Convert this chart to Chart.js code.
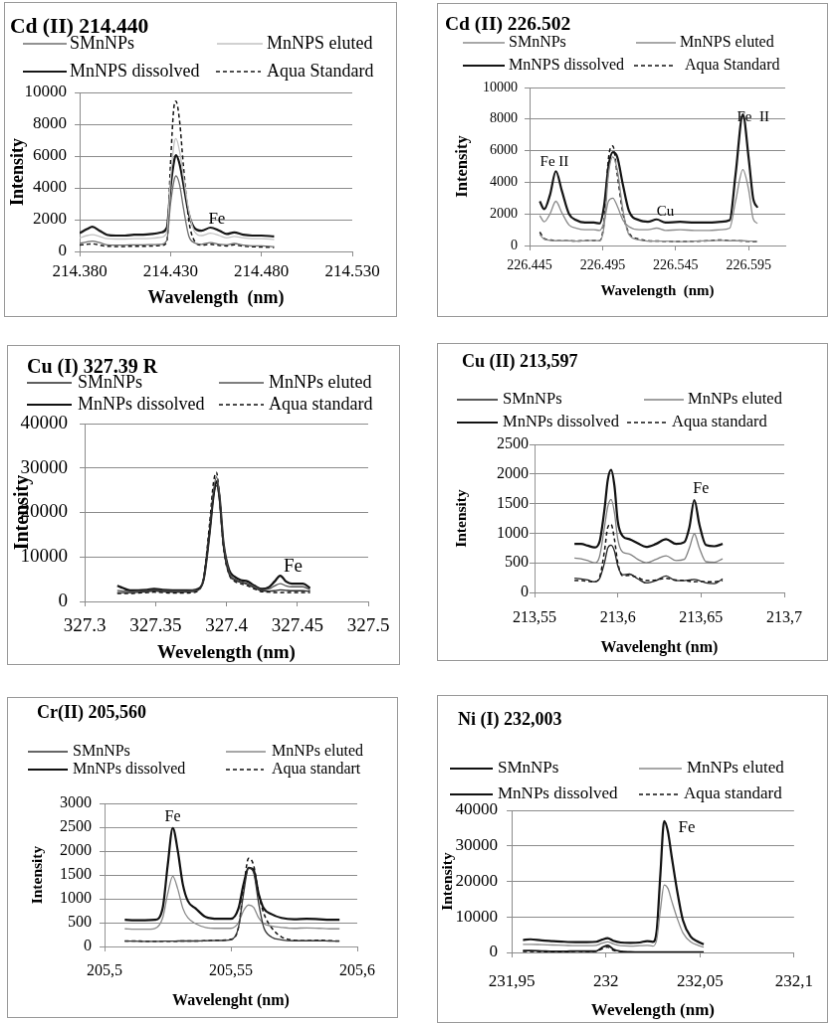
<!DOCTYPE html>
<html>
<head>
<meta charset="utf-8">
<script src="https://cdn.jsdelivr.net/npm/chart.js@4.4.0/dist/chart.umd.min.js"></script>
<style>
  body { margin: 0; background: #fff; width: 828px; height: 1023px; overflow: hidden; position: relative; }
  canvas { position: absolute; border: 1px solid #9a9a9a; background: #fff; }
</style>
</head>
<body>
<script>
// ---- Cd (II) 214.440 ----
const cd214Wl = [214.380, 214.384, 214.387, 214.391, 214.395, 214.400, 214.405, 214.410, 214.415, 214.420, 214.425, 214.428, 214.430, 214.432, 214.433, 214.435, 214.437, 214.440, 214.443, 214.447, 214.452, 214.457, 214.461, 214.465, 214.470, 214.475, 214.480, 214.487];
const cd214Smn = [500, 600, 650, 550, 420, 400, 400, 420, 420, 430, 450, 700, 3000, 4500, 4750, 4200, 2800, 1000, 550, 450, 550, 450, 420, 500, 400, 350, 350, 300];
const cd214Elu = [850, 1000, 1050, 950, 800, 780, 780, 800, 800, 830, 900, 1200, 4500, 6800, 7100, 6300, 4800, 2600, 1300, 1000, 1150, 1000, 850, 950, 850, 800, 800, 750];
const cd214Dis = [1150, 1400, 1550, 1300, 1050, 1000, 1000, 1050, 1050, 1100, 1200, 1500, 4000, 5700, 6050, 5500, 4300, 2400, 1500, 1300, 1500, 1300, 1100, 1200, 1050, 1000, 1000, 950];
const cd214Aqua = [400, 450, 480, 400, 330, 320, 320, 330, 330, 350, 380, 600, 5500, 9200, 9450, 8200, 5500, 2000, 700, 400, 450, 380, 350, 420, 330, 300, 280, 250];
const cd214YTicks = [0, 2000, 4000, 6000, 8000, 10000];
const cd214XTicks = [214.38, 214.43, 214.48, 214.53];
const cd214XLabels = ['214.380', '214.430', '214.480', '214.530'];
const cd214Notes = ['Fe'], cd214NoteX = [214.4555], cd214NoteY = [2060];

// ---- Cd (II) 226.502 ----
const cd226Wl = [226.452, 226.455, 226.459, 226.463, 226.467, 226.472, 226.477, 226.483, 226.489, 226.493, 226.496, 226.499, 226.502, 226.505, 226.509, 226.513, 226.520, 226.526, 226.532, 226.538, 226.548, 226.558, 226.568, 226.576, 226.582, 226.586, 226.591, 226.595, 226.598, 226.601];
const cd226Smn = [700, 400, 330, 300, 300, 300, 280, 300, 320, 300, 1200, 4500, 5600, 4800, 2200, 700, 350, 280, 270, 270, 250, 270, 300, 320, 300, 300, 300, 280, 270, 250];
const cd226Elu = [1900, 1500, 2000, 2800, 2100, 1300, 1100, 1000, 1000, 950, 1500, 2800, 3000, 2500, 1600, 1200, 1000, 1000, 1100, 950, 1000, 950, 950, 1000, 1100, 2800, 4800, 3500, 1700, 1400];
const cd226Dis = [2800, 2300, 3200, 4700, 3500, 2000, 1600, 1450, 1450, 1400, 2500, 5000, 5900, 5600, 3800, 2200, 1600, 1500, 1650, 1450, 1500, 1450, 1450, 1500, 1600, 4500, 8300, 5500, 3000, 2400];
const cd226Aqua = [850, 450, 350, 300, 300, 300, 280, 300, 320, 300, 1500, 5500, 6300, 4500, 2000, 800, 400, 300, 280, 270, 250, 270, 300, 350, 300, 300, 280, 260, 250, 250];
const cd226YTicks = [0, 2000, 4000, 6000, 8000, 10000];
const cd226XTicks = [226.445, 226.495, 226.545, 226.595];
const cd226XLabels = ['226.445', '226.495', '226.545', '226.595'];
const cd226XMax = 226.62;
const cd226Notes = ['Fe II', 'Cu', 'Fe  II'], cd226NoteX = [226.462, 226.538, 226.598], cd226NoteY = [5280, 2130, 8120];

// ---- Cu (I) 327.39 R ----
const cu327Wl = [327.323, 327.327, 327.332, 327.338, 327.344, 327.349, 327.355, 327.362, 327.370, 327.376, 327.380, 327.384, 327.388, 327.391, 327.393, 327.395, 327.398, 327.402, 327.406, 327.410, 327.415, 327.420, 327.425, 327.430, 327.434, 327.438, 327.442, 327.446, 327.450, 327.454, 327.459];
const cu327Smn = [2000, 2000, 2000, 2100, 2200, 2400, 2200, 2100, 2100, 2200, 2500, 5000, 15000, 24000, 26000, 23000, 12000, 6000, 4800, 4300, 3800, 3000, 2400, 2300, 2400, 2600, 2500, 2400, 2400, 2400, 2300];
const cu327Elu = [2500, 2300, 2200, 2300, 2400, 2600, 2400, 2300, 2300, 2400, 2600, 5000, 15000, 25000, 28000, 24000, 13000, 6500, 5000, 4500, 4000, 3300, 2600, 2800, 3500, 4000, 3500, 3300, 3300, 3300, 2600];
const cu327Dis = [3500, 3000, 2500, 2500, 2600, 2800, 2600, 2500, 2500, 2500, 2800, 5000, 15000, 24000, 27000, 24000, 13000, 7000, 5500, 4800, 4500, 3500, 2800, 3200, 4500, 5800, 4500, 4000, 4000, 4000, 3000];
const cu327Aqua = [1800, 1800, 1800, 1900, 2000, 2100, 2000, 1900, 1900, 2000, 2400, 5500, 17000, 27000, 29000, 24000, 12000, 6000, 4500, 4000, 3500, 2800, 2200, 2100, 2000, 2000, 2000, 2000, 2000, 2000, 2000];
const cu327YTicks = [0, 10000, 20000, 30000, 40000];
const cu327XTicks = [327.3, 327.35, 327.4, 327.45, 327.5];
const cu327XLabels = ['327.3', '327.35', '327.4', '327.45', '327.5'];
const cu327Notes = ['Fe'], cu327NoteX = [327.447], cu327NoteY = [7900];

// ---- Cu (II) 213,597 ----
const cu213Wl = [213.574, 213.578, 213.582, 213.586, 213.589, 213.592, 213.594, 213.596, 213.598, 213.600, 213.603, 213.607, 213.612, 213.617, 213.623, 213.629, 213.635, 213.640, 213.643, 213.646, 213.649, 213.653, 213.658, 213.663];
const cu213Smn = [240, 230, 210, 180, 230, 500, 750, 800, 700, 450, 300, 310, 230, 160, 200, 280, 200, 200, 210, 220, 200, 160, 150, 230];
const cu213Elu = [580, 570, 540, 500, 600, 1100, 1450, 1570, 1350, 900, 680, 650, 560, 500, 560, 620, 540, 560, 750, 990, 750, 520, 510, 570];
const cu213Dis = [820, 820, 790, 760, 850, 1400, 1900, 2070, 1800, 1200, 950, 900, 830, 770, 820, 900, 820, 850, 1100, 1560, 1150, 800, 780, 820];
const cu213Aqua = [200, 200, 190, 180, 250, 700, 1100, 1150, 900, 500, 280, 290, 250, 200, 210, 240, 210, 200, 190, 180, 185, 180, 180, 200];
const cu213YTicks = [0, 500, 1000, 1500, 2000, 2500];
const cu213XTicks = [213.55, 213.6, 213.65, 213.7];
const cu213XLabels = ['213,55', '213,6', '213,65', '213,7'];
const cu213Notes = ['Fe'], cu213NoteX = [213.650], cu213NoteY = [1750];

// ---- Cr(II) 205,560 ----
const cr205Wl = [205.508, 205.512, 205.516, 205.520, 205.523, 205.525, 205.527, 205.529, 205.531, 205.533, 205.536, 205.540, 205.545, 205.550, 205.553, 205.555, 205.557, 205.559, 205.561, 205.563, 205.566, 205.570, 205.575, 205.580, 205.585, 205.589, 205.593];
const cr205Smn = [110, 110, 105, 105, 110, 110, 110, 115, 115, 115, 115, 120, 125, 140, 400, 1100, 1650, 1550, 900, 400, 200, 140, 120, 120, 120, 115, 110];
const cr205Elu = [370, 360, 360, 380, 600, 1100, 1470, 1200, 800, 600, 480, 400, 380, 380, 500, 750, 870, 820, 600, 480, 430, 400, 380, 390, 380, 370, 370];
const cr205Dis = [560, 550, 550, 560, 800, 1700, 2480, 2000, 1300, 950, 800, 620, 580, 580, 800, 1300, 1650, 1600, 1100, 800, 680, 600, 570, 580, 570, 560, 560];
const cr205Aqua = [115, 115, 110, 110, 110, 110, 110, 110, 115, 115, 115, 120, 130, 150, 400, 1200, 1850, 1700, 1100, 700, 400, 200, 130, 120, 130, 120, 115];
const cr205YTicks = [0, 500, 1000, 1500, 2000, 2500, 3000];
const cr205XTicks = [205.5, 205.55, 205.6];
const cr205XLabels = ['205,5', '205,55', '205,6'];
const cr205Notes = ['Fe'], cr205NoteX = [205.527], cr205NoteY = [2710];

// ---- Ni (I) 232,003 ----
const ni232Wl = [231.956, 231.960, 231.966, 231.972, 231.978, 231.984, 231.990, 231.995, 231.998, 232.001, 232.004, 232.008, 232.013, 232.018, 232.022, 232.025, 232.027, 232.029, 232.031, 232.033, 232.035, 232.038, 232.041, 232.045, 232.049, 232.052];
const ni232Smn = [500, 500, 400, 300, 300, 400, 350, 400, 1400, 2000, 900, 300, 150, 100, 100, 100, 100, 100, 100, 100, 100, 100, 100, 100, 100, 100];
const ni232Elu = [2300, 2300, 2200, 2100, 2000, 1900, 1900, 2000, 2600, 3000, 2400, 1900, 1800, 1900, 2000, 1800, 3500, 12000, 19000, 18000, 14500, 9500, 5500, 3000, 2000, 1500];
const ni232Dis = [3500, 3700, 3400, 3200, 3000, 2900, 2900, 3000, 3600, 4000, 3300, 2800, 2700, 2800, 3200, 3000, 6000, 22000, 37000, 34000, 27000, 17000, 9000, 4500, 3000, 2300];
const ni232Aqua = [250, 250, 200, 150, 150, 300, 250, 300, 1000, 1500, 600, 200, 100, 80, 80, 80, 80, 80, 80, 80, 80, 80, 80, 80, 80, 80];
const ni232YTicks = [0, 10000, 20000, 30000, 40000];
const ni232XTicks = [231.95, 232, 232.05, 232.1];
const ni232XLabels = ['231,95', '232', '232,05', '232,1'];
const ni232Notes = ['Fe'], ni232NoteX = [232.043], ni232NoteY = [35200];

const namesS = ['SMnNPs', 'MnNPS eluted', 'MnNPS dissolved', 'Aqua Standard'];
const namesP = ['SMnNPs', 'MnNPs eluted', 'MnNPs dissolved', 'Aqua standard'];

Chart.defaults.font.family = "'Liberation Serif', 'Times New Roman', serif";
Chart.defaults.color = '#000';

const FONT = "'Liberation Serif', 'Times New Roman', serif";

function makeChart(p, d) {
  const cv = document.createElement('canvas');
  const W = p.box[2] - 2, H = p.box[3] - 2;
  cv.width = W; cv.height = H;
  cv.style.left = p.box[0] + 'px';
  cv.style.top = p.box[1] + 'px';
  cv.style.width = W + 'px';
  cv.style.height = H + 'px';
  document.body.appendChild(cv);
  const ox = p.box[0] + 1, oy = p.box[1] + 1;
  const [pl, pt, pr, pb] = p.plot;
  const series = [d.smn, d.elu, d.dis, d.aqua];

  // title, legend and peak labels
  const overlay = {
    id: 'overlay',
    afterDraw(chart) {
      const c = chart.ctx;
      c.save();
      c.fillStyle = '#000';
      c.textBaseline = 'middle';
      c.textAlign = 'left';
      c.font = `bold ${p.titleSize}px ${FONT}`;
      c.fillText(d.title, p.title[0] - ox, p.title[1] - oy);
      c.font = `${p.legSize}px ${FONT}`;
      p.legend.forEach((it, i) => {
        c.beginPath();
        c.strokeStyle = p.colors[i];
        c.lineWidth = p.widths[i];
        c.setLineDash(i === 3 ? [4, 3] : []);
        c.moveTo(it[0] - ox, it[2] - oy);
        c.lineTo(it[1] - ox, it[2] - oy);
        c.stroke();
        c.setLineDash([]);
        c.fillText(d.names[i], it[3] - ox, it[2] - oy);
      });
      c.font = `${p.noteSize}px ${FONT}`;
      c.textAlign = 'center';
      const xs = chart.scales.x, ys = chart.scales.y;
      d.notes.forEach((t, i) => c.fillText(t, xs.getPixelForValue(d.noteX[i]), ys.getPixelForValue(d.noteY[i])));
      c.restore();
    }
  };

  new Chart(cv, {
    type: 'line',
    data: {
      datasets: series.map((s, i) => ({
        label: d.names[i],
        data: d.wl.map((x, j) => ({ x: x, y: s[j] })),
        borderColor: p.colors[i],
        borderWidth: p.widths[i],
        borderDash: i === 3 ? [4, 3] : [],
        pointRadius: 0,
        cubicInterpolationMode: 'monotone',
        fill: false
      }))
    },
    options: {
      responsive: false,
      animation: false,
      events: [],
      layout: { padding: { top: pt - oy, right: ox + W - pr, left: 0, bottom: 0 } },
      plugins: { legend: { display: false }, tooltip: { enabled: false } },
      scales: {
        x: {
          type: 'linear',
          min: d.xTicks[0],
          max: d.xMax !== undefined ? d.xMax : d.xTicks[d.xTicks.length - 1],
          afterFit: s => { s.height = oy + H - pb; },
          afterBuildTicks: s => { s.ticks = d.xTicks.map(v => ({ value: v })); },
          ticks: { callback: (v, i) => d.xLabels[i], font: { size: p.tickSize }, color: '#000', padding: p.xtp, maxRotation: 0, autoSkip: false },
          grid: { drawOnChartArea: false, color: '#8c8c8c', tickLength: 5 },
          border: { color: '#8c8c8c' },
          title: { display: true, text: d.xTitle, color: '#000', font: { size: p.xTitleSize, weight: 'bold', lineHeight: 1 },
                   padding: { top: 0, bottom: oy + H - p.xTitleY - p.xTitleSize / 2 } }
        },
        y: {
          min: 0,
          max: d.yTicks[d.yTicks.length - 1],
          afterFit: s => { s.width = pl - ox; },
          afterBuildTicks: s => { s.ticks = d.yTicks.map(v => ({ value: v })); },
          ticks: { callback: (v, i) => String(d.yTicks[i]), font: { size: p.tickSize }, color: '#000', padding: p.ytp },
          grid: { color: '#8c8c8c', tickLength: 5 },
          border: { color: '#8c8c8c' },
          title: { display: true, text: 'Intensity', color: '#000', font: { size: p.yTitleSize, weight: 'bold', lineHeight: 1 },
                   padding: { top: p.yTitleX - ox - p.yTitleSize / 2, bottom: 0 } }
        }
      }
    },
    plugins: [overlay]
  });
}

makeChart(
  { box: [4, 2, 395, 317], plot: [80, 93, 354, 253], title: [10, 27], titleSize: 21.5,
    legend: [[23, 67, 44, 70], [218, 264, 44, 268], [23, 67, 72, 70], [217, 262, 72, 268]], legSize: 18,
    tickSize: 17, ytp: 8, xtp: 5, yTitleX: 18, yTitleSize: 18, xTitleY: 300, xTitleSize: 18, noteSize: 17,
    colors: ['#6e6e6e', '#c2c2c2', '#151515', '#151515'], widths: [1.3, 1.3, 2.2, 1.5] },
  { title: 'Cd (II) 214.440', names: namesS, wl: cd214Wl, smn: cd214Smn, elu: cd214Elu, dis: cd214Dis, aqua: cd214Aqua,
    yTicks: cd214YTicks, xTicks: cd214XTicks, xLabels: cd214XLabels, xTitle: 'Wavelength  (nm)',
    notes: cd214Notes, noteX: cd214NoteX, noteY: cd214NoteY });

makeChart(
  { box: [437, 3, 393, 316], plot: [530, 88, 787, 247], title: [445, 25], titleSize: 19.5,
    legend: [[463, 505, 43, 509], [637, 677, 43, 681], [463, 505, 66, 509], [635, 677, 66, 686]], legSize: 16,
    tickSize: 14, ytp: 7, xtp: 7, yTitleX: 463, yTitleSize: 16.5, xTitleY: 293, xTitleSize: 15, noteSize: 15,
    colors: ['#8a8a8a', '#8a8a8a', '#151515', '#151515'], widths: [1.3, 1.3, 2.2, 1.5] },
  { title: 'Cd (II) 226.502', names: namesS, wl: cd226Wl, smn: cd226Smn, elu: cd226Elu, dis: cd226Dis, aqua: cd226Aqua,
    yTicks: cd226YTicks, xTicks: cd226XTicks, xLabels: cd226XLabels, xMax: cd226XMax, xTitle: 'Wavelength  (nm)',
    notes: cd226Notes, noteX: cd226NoteX, noteY: cd226NoteY });

makeChart(
  { box: [7, 345, 395, 322], plot: [85, 424, 370, 603], title: [27, 368], titleSize: 20,
    legend: [[27, 72, 383, 78], [220, 265, 383, 270], [27, 72, 405, 78], [220, 265, 405, 270]], legSize: 18,
    tickSize: 19, ytp: 12, xtp: 9, yTitleX: 23, yTitleSize: 20, xTitleY: 655, xTitleSize: 19, noteSize: 19,
    colors: ['#2a2a2a', '#555555', '#111111', '#111111'], widths: [1.3, 1.3, 2.2, 1.5] },
  { title: 'Cu (I) 327.39 R', names: namesP, wl: cu327Wl, smn: cu327Smn, elu: cu327Elu, dis: cu327Dis, aqua: cu327Aqua,
    yTicks: cu327YTicks, xTicks: cu327XTicks, xLabels: cu327XLabels, xTitle: 'Wevelength (nm)',
    notes: cu327Notes, noteX: cu327NoteX, noteY: cu327NoteY });

makeChart(
  { box: [437, 343, 393, 320], plot: [535, 445, 786, 594], title: [462, 362], titleSize: 18,
    legend: [[457, 498, 400, 503], [645, 685, 400, 689], [457, 498, 423, 503], [628, 668, 423, 673]], legSize: 16.5,
    tickSize: 16, ytp: 1, xtp: 11, yTitleX: 462, yTitleSize: 15.5, xTitleY: 650, xTitleSize: 16, noteSize: 16,
    colors: ['#222222', '#808080', '#111111', '#111111'], widths: [1.3, 1.3, 2.2, 1.5] },
  { title: 'Cu (II) 213,597', names: namesP, wl: cu213Wl, smn: cu213Smn, elu: cu213Elu, dis: cu213Dis, aqua: cu213Aqua,
    yTicks: cu213YTicks, xTicks: cu213XTicks, xLabels: cu213XLabels, xTitle: 'Wavelenght (nm)',
    notes: cu213Notes, noteX: cu213NoteX, noteY: cu213NoteY });

makeChart(
  { box: [7, 697, 393, 323], plot: [105, 804, 359, 948], title: [37, 713], titleSize: 18,
    legend: [[28, 68, 752, 73], [227, 267, 752, 273], [28, 68, 770, 73], [227, 265, 770, 273]], legSize: 16,
    tickSize: 16, ytp: 8, xtp: 10, yTitleX: 38, yTitleSize: 15.5, xTitleY: 1003, xTitleSize: 16, noteSize: 16,
    colors: ['#333333', '#8a8a8a', '#111111', '#111111'], widths: [1.3, 1.3, 2.2, 1.5] },
  { title: 'Cr(II) 205,560', names: ['SMnNPs', 'MnNPs eluted', 'MnNPs dissolved', 'Aqua standart'],
    wl: cr205Wl, smn: cr205Smn, elu: cr205Elu, dis: cr205Dis, aqua: cr205Aqua,
    yTicks: cr205YTicks, xTicks: cr205XTicks, xLabels: cr205XLabels, xTitle: 'Wavelenght (nm)',
    notes: cr205Notes, noteX: cr205NoteX, noteY: cr205NoteY });

makeChart(
  { box: [437, 695, 393, 330], plot: [512, 811, 798, 954], title: [458, 720], titleSize: 18,
    legend: [[450, 493, 769, 498], [640, 683, 769, 688], [450, 493, 795, 498], [640, 680, 795, 685]], legSize: 17,
    tickSize: 17, ytp: 9, xtp: 14, yTitleX: 448, yTitleSize: 15.5, xTitleY: 1013, xTitleSize: 17, noteSize: 17,
    colors: ['#111111', '#8a8a8a', '#111111', '#111111'], widths: [1.8, 1.3, 2.2, 1.3] },
  { title: 'Ni (I) 232,003', names: namesP, wl: ni232Wl, smn: ni232Smn, elu: ni232Elu, dis: ni232Dis, aqua: ni232Aqua,
    yTicks: ni232YTicks, xTicks: ni232XTicks, xLabels: ni232XLabels, xTitle: 'Wevelength (nm)',
    notes: ni232Notes, noteX: ni232NoteX, noteY: ni232NoteY });
</script>
</body>
</html>
